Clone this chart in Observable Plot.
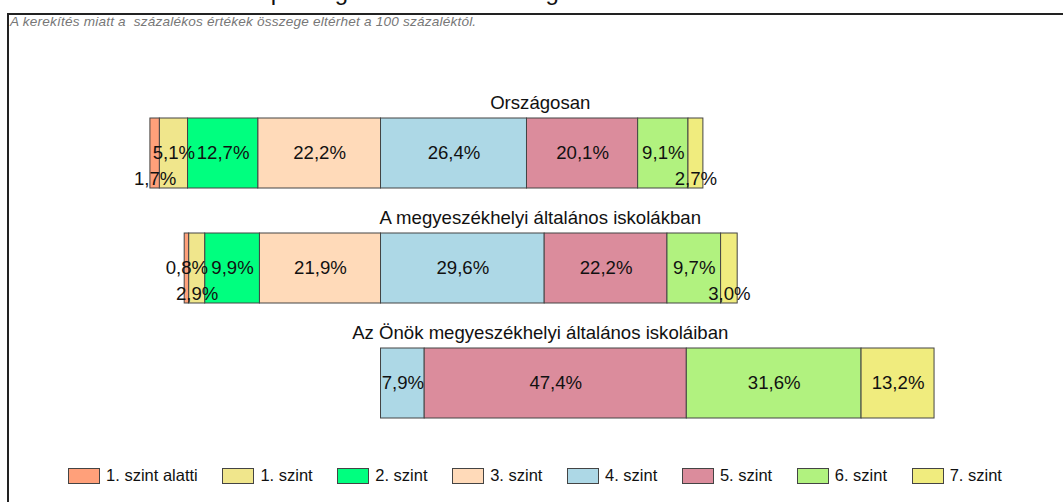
<!DOCTYPE html>
<html><head><meta charset="utf-8">
<script src="https://cdn.jsdelivr.net/npm/d3@7"></script>
<script src="https://cdn.jsdelivr.net/npm/@observablehq/plot@0.6"></script>
<style>
body{margin:0;background:#fff;font-family:"Liberation Sans",Arial,sans-serif;}
#wrap{position:relative;width:1063px;height:502px;overflow:hidden;background:#fff;}
#frame{position:absolute;left:7px;top:13px;right:-5px;bottom:-5px;border-left:2px solid #222;border-top:2px solid #222;}
#cut{position:absolute;left:4px;top:-22px;font-size:24px;white-space:nowrap;color:#111;}
#sub{position:absolute;left:10px;top:14px;font-style:italic;font-size:13.6px;letter-spacing:0.2px;color:#777;white-space:pre;}
#chart{position:absolute;left:0;top:0;}
#legend{position:absolute;left:7px;right:0;top:466px;display:flex;justify-content:center;gap:24.6px;font-size:16.5px;color:#111;}
.item{display:flex;align-items:center;gap:6px;white-space:nowrap}
.sw{width:32px;height:16px;border:1px solid #444;box-sizing:border-box}
</style></head>
<body>
<div id="wrap">
  <div id="cut">Matematika: A tanulók képességszintek szerinti megoszlása</div>
  <div id="frame"></div>
  <div id="sub">A kerekítés miatt a  százalékos értékek összege eltérhet a 100 százaléktól.</div>
  <div id="chart"></div>
  <div id="legend"></div>
</div>
<script>
// ---- data ----
const levels = ["1. szint alatti","1. szint","2. szint","3. szint","4. szint","5. szint","6. szint","7. szint"];
const groups = ["Országosan","A megyeszékhelyi általános iskolákban","Az Önök megyeszékhelyi általános iskoláiban"];
const orszagosan = [1.7,5.1,12.7,22.2,26.4,20.1,9.1,2.7];
const megyeszekhelyi = [0.8,2.9,9.9,21.9,29.6,22.2,9.7,3.0];
const onok = [0,0,0,0,7.9,47.4,31.6,13.2];
const colors = ["#FFA07A","#F0E68C","#00FF7F","#FFDAB9","#ADD8E6","#DB8C9C","#B1F27F","#F0EC7E"];

// ---- layout / style constants ----
const pivotIndex = 4;            // levels from this index stack to the right of zero
const titleCenter = 28.8;        // x (in %) where group titles are centred
const lowLabels = new Set(["Országosan|1. szint alatti","Országosan|7. szint",
  "A megyeszékhelyi általános iskolákban|1. szint","A megyeszékhelyi általános iskolákban|7. szint"]);

const series = [orszagosan, megyeszekhelyi, onok];
const segs = [];
groups.forEach((g, gi) => {
  const vals = series[gi];
  let acc = 0;
  for (let i = pivotIndex - 1; i >= 0; i--) {
    const v = vals[i];
    if (v > 0) segs.push({group: g, level: levels[i], value: v, x1: -(acc + v), x2: -acc});
    acc += v;
  }
  acc = 0;
  for (let i = pivotIndex; i < levels.length; i++) {
    const v = vals[i];
    if (v > 0) segs.push({group: g, level: levels[i], value: v, x1: acc, x2: acc + v});
    acc += v;
  }
});
segs.forEach(d => {
  d.label = d.value.toFixed(1).replace(".", ",") + "%";
  d.low = lowLabels.has(d.group + "|" + d.level);
});

const font = "Liberation Sans, Arial, sans-serif";
const chart = Plot.plot({
  width: 1063, height: 450,
  marginLeft: 0, marginRight: 0, marginTop: 117, marginBottom: 32,
  x: {domain: [-68.81, 123.42], axis: null},
  y: {domain: groups, axis: null, paddingInner: 0.394, paddingOuter: 0},
  color: {domain: levels, range: colors},
  style: {fontFamily: font, background: "transparent", overflow: "visible"},
  marks: [
    Plot.barX(segs, {x1: "x1", x2: "x2", y: "group", fill: "level", stroke: "#444", strokeWidth: 1}),
    Plot.text(segs.filter(d => !d.low), {x: d => (d.x1 + d.x2) / 2, y: "group", text: "label", fontSize: 18.6, fill: "#111"}),
    Plot.text(segs.filter(d => d.low), {x: d => (d.x1 + d.x2) / 2, y: "group", text: "label", dy: 26, fontSize: 18.6, fill: "#111"}),
    Plot.text(groups, {x: () => titleCenter, y: d => d, text: d => d, dy: -50, fontSize: 18.6, fill: "#111"})
  ]
});
document.getElementById("chart").appendChild(chart);

const leg = document.getElementById("legend");
levels.forEach((l, i) => {
  const it = document.createElement("div"); it.className = "item";
  const sw = document.createElement("div"); sw.className = "sw"; sw.style.background = colors[i];
  const t = document.createElement("span"); t.textContent = l;
  it.appendChild(sw); it.appendChild(t); leg.appendChild(it);
});
</script>
</body></html>
